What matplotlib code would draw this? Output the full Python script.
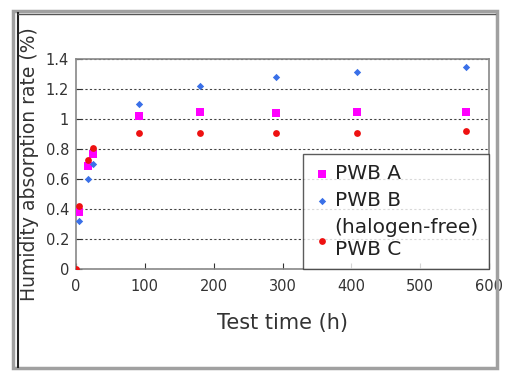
import matplotlib
matplotlib.use("Agg")
import matplotlib.pyplot as plt
from matplotlib.patches import Rectangle
from matplotlib.lines import Line2D

# Data
time_a = [5, 18, 24, 91, 180, 290, 408, 567]
pwb_a = [0.38, 0.69, 0.77, 1.02, 1.05, 1.04, 1.05, 1.05]
time_b = [5, 18, 24, 91, 180, 290, 408, 567]
pwb_b = [0.32, 0.60, 0.70, 1.10, 1.22, 1.28, 1.315, 1.345]
time_c = [0, 5, 18, 24, 91, 180, 290, 408, 567]
pwb_c = [0.0, 0.42, 0.73, 0.81, 0.91, 0.91, 0.91, 0.91, 0.92]
xticks = [0, 100, 200, 300, 400, 500, 600]
yticks = [0, 0.2, 0.4, 0.6, 0.8, 1, 1.2, 1.4]
ytick_labels = ["0", "0.2", "0.4", "0.6", "0.8", "1", "1.2", "1.4"]

plt.rcParams['font.family'] = ['DejaVu Sans']

W, H = 511, 383
fig = plt.figure(figsize=(W/100, H/100), dpi=100)

def fx(px): return px / W
def fy(py): return 1 - py / H

# frame
fig.patches.append(Rectangle((fx(13), fy(368)), fx(497) - fx(13), fy(11) - fy(368),
                             transform=fig.transFigure, fill=False, edgecolor='#a0a0a0', linewidth=2.5))
fig.lines.append(Line2D([fx(18), fx(18)], [fy(367), fy(13)], transform=fig.transFigure, color='#222222', linewidth=1.5))
fig.lines.append(Line2D([fx(18), fx(495)], [fy(13.5), fy(13.5)], transform=fig.transFigure, color='#555555', linewidth=1.0))

ax = fig.add_axes([fx(76), fy(269), fx(489) - fx(76), fy(59) - fy(269)])
ax.scatter(time_a, pwb_a, marker='s', s=26, color='#ff00ff', zorder=3, label='PWB A', linewidths=0)
ax.scatter(time_b, pwb_b, marker='D', s=14, color='#3a70e8', zorder=3, label='PWB B', linewidths=0)
ax.scatter(time_c, pwb_c, marker='o', s=24, color='#ee1111', zorder=3, label='(halogen-free)\nPWB C', linewidths=0)

ax.set_xlim(0, 600)
ax.set_ylim(0, 1.4)
ax.set_xticks(xticks)
ax.set_yticks(yticks)
ax.set_yticklabels(ytick_labels)
ax.tick_params(direction='in', length=4, colors='#333333', labelsize=10.5, labelcolor='#333333', width=0.8)
ax.tick_params(axis='x', pad=7)
ax.tick_params(axis='y', pad=5)
for s in ax.spines.values():
    s.set_color('#888888')
    s.set_linewidth(1.2)
ax.grid(axis='y', linestyle=(0, (2, 2)), color='#444444', linewidth=0.8)
ax.set_axisbelow(True)
ax.set_xlabel('Test time (h)', fontsize=15, color='#333333', labelpad=14)
ax.set_ylabel('Humidity absorption rate (%)', fontsize=13.5, color='#333333', labelpad=5)

leg = ax.legend(loc='lower right', fontsize=14.5, frameon=True, fancybox=False,
                borderaxespad=0, handletextpad=0.25, handlelength=0.8, markerscale=1.0,
                labelspacing=0.4, borderpad=0.5)
leg.get_frame().set_edgecolor('#333333')
leg.get_frame().set_linewidth(1.0)
for t in leg.get_texts():
    t.set_color('#222222')

fig.savefig('out.png', dpi=100)
